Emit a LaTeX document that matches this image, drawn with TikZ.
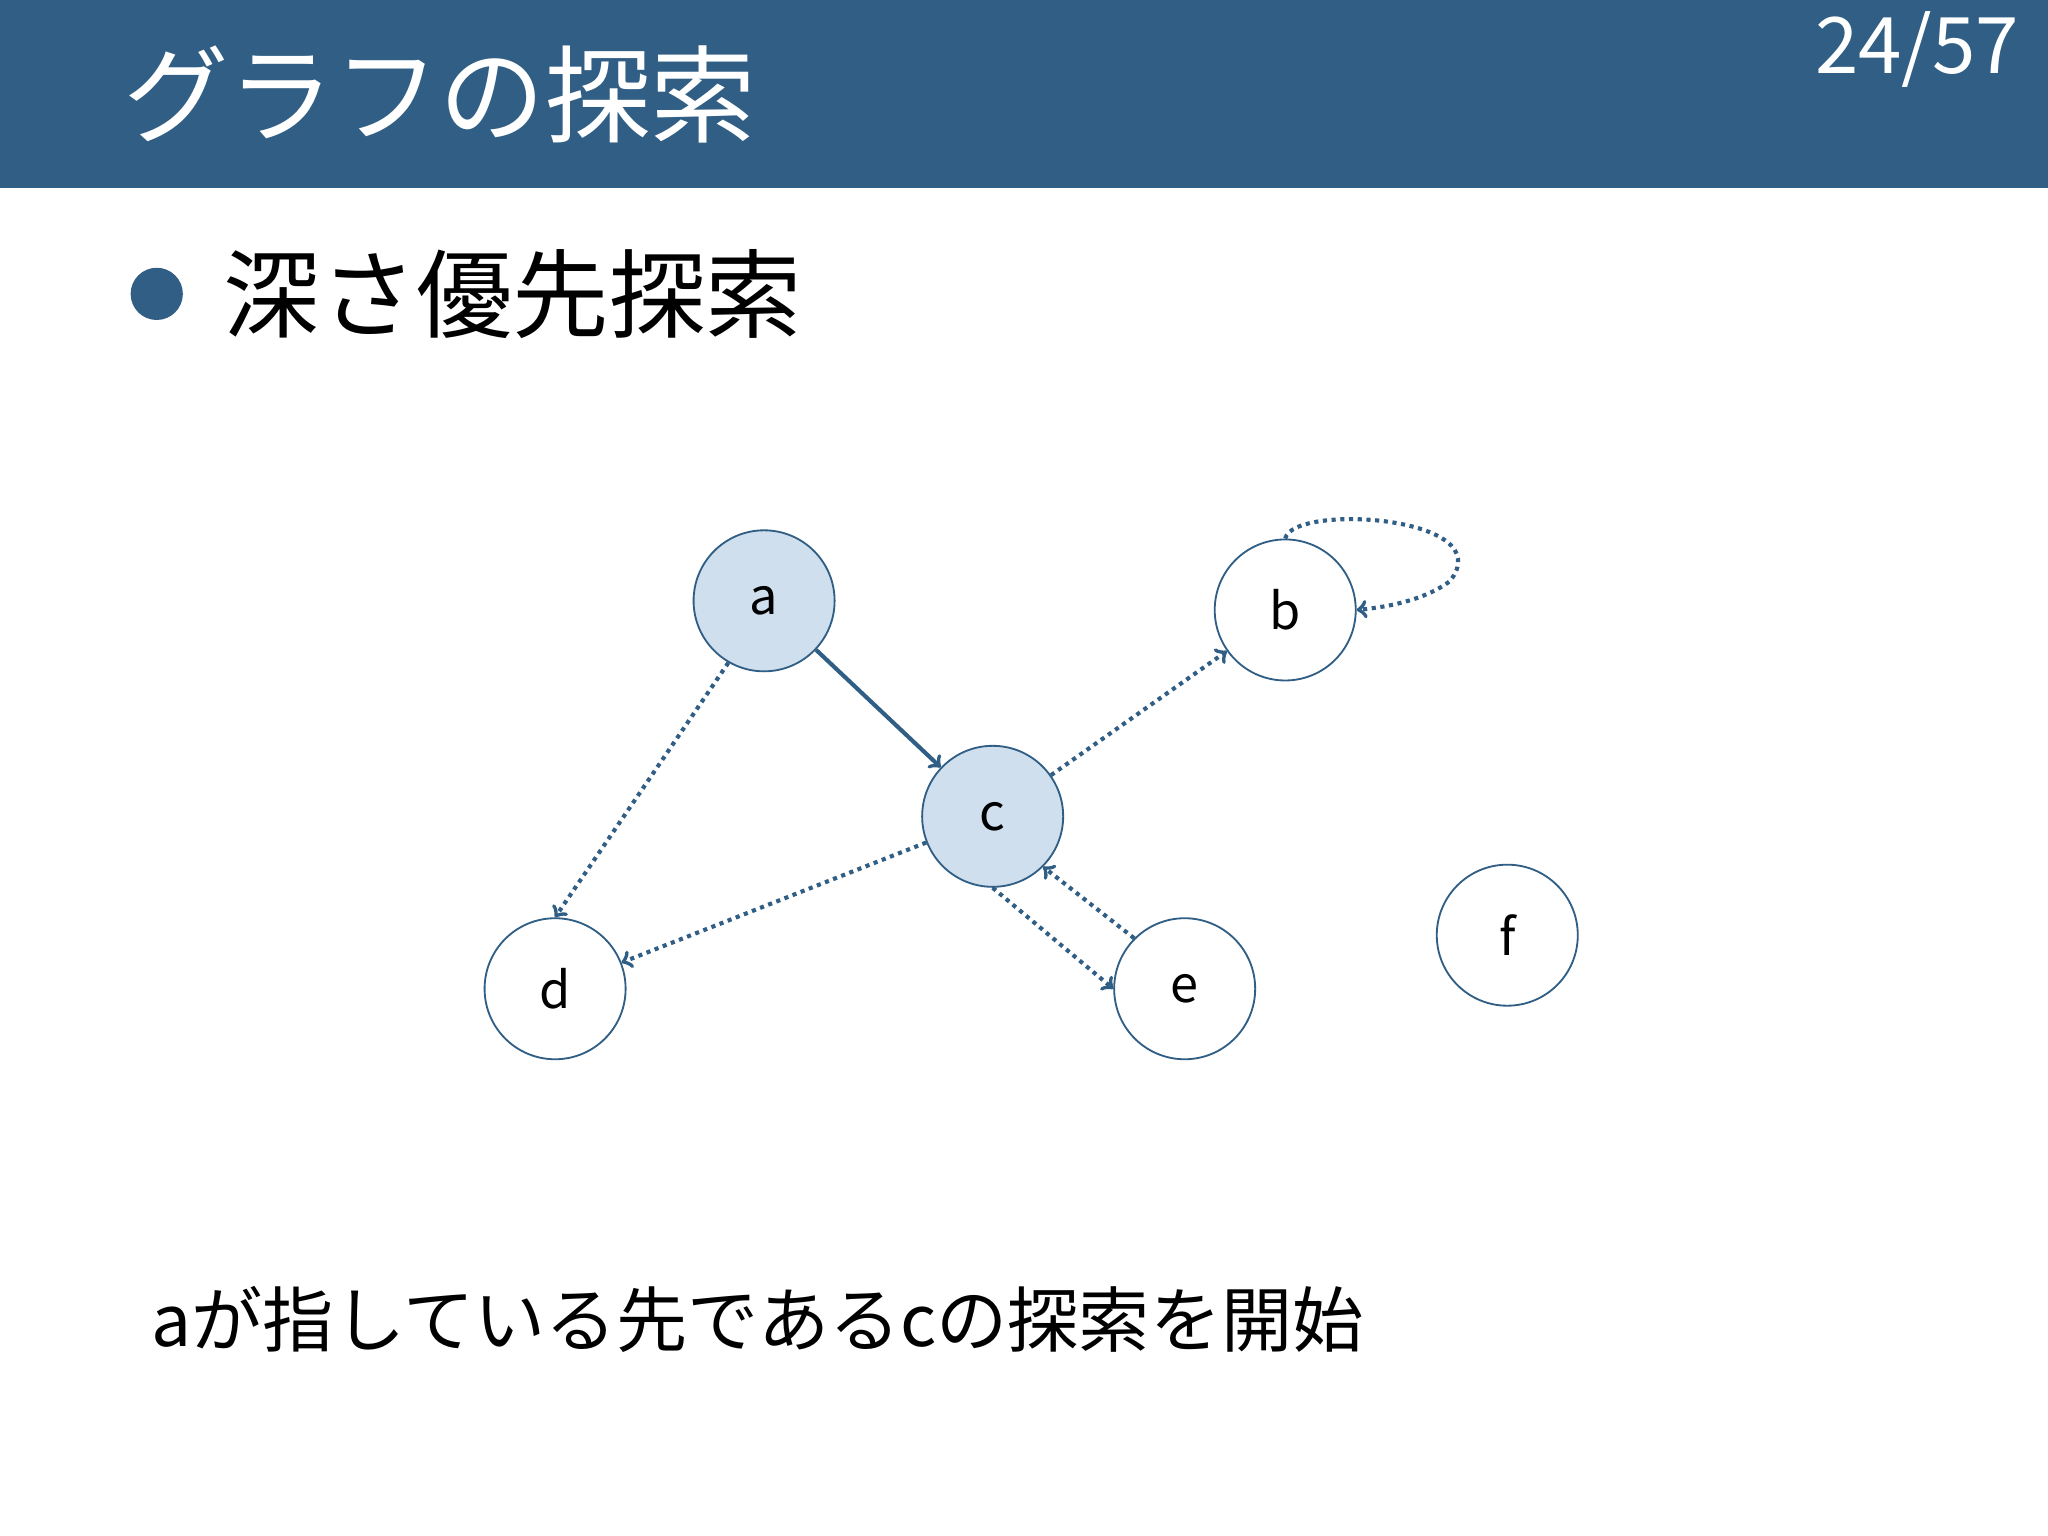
\documentclass[tikz,border=0pt]{standalone}
\usepackage{fontspec}
\setmainfont{Noto Sans CJK JP}
\usetikzlibrary{arrows,positioning}
\definecolor{barblue}{HTML}{305E84}
\definecolor{nodefill}{HTML}{CFDFEE}
\tikzset{vertex/.style={circle, draw=barblue, thick, fill=white, minimum size=2.16cm, inner sep=0pt, font=\fontsize{22}{24}\selectfont}}
\tikzset{visited/.style={vertex, fill=nodefill}}
\tikzset{tree/.style={draw=barblue, line width=1.8pt, -to}}
\tikzset{back/.style={draw=barblue, line width=1.8pt, dotted, -to}}

\begin{document}
\begin{tikzpicture}[x=0.02cm, y=-0.02cm]
  \useasboundingbox (0,0) rectangle (1568,1176);
  \fill[barblue] (0,0) rectangle (1568,144);
  % Texts
  \node[anchor=west, text=white, font=\fontsize{46}{50}\selectfont] (title) at (88,72) {グラフの探索};
  \node[anchor=east, text=white, font=\fontsize{34}{36}\selectfont] (page) at (1552,38) {24/57};
  \fill[barblue] (120,225) circle (20) coordinate (dot);
  \node[anchor=west, font=\fontsize{42}{46}\selectfont] (head) at (165,225) {深さ優先探索};
  \node[anchor=west, font=\fontsize{31}{34}\selectfont] (msg) at (110,1010) {aが指している先であるcの探索を開始};
  %Nodes
  \node[visited] (a) at (585,460) {a};
  \node[vertex] (b) at (984,467) {b};
  \node[visited] (c) at (760,625) {c};
  \node[vertex] (d) at (425,757) {d};
  \node[vertex] (e) at (907,757) {e};
  \node[vertex] (f) at (1154,716) {f};
  % Edges
  \draw[tree] (a) -- (c);
  \draw[back] (a.-120) -- (d.north);
  \draw[back] (c) -- (b);
  \draw[back] (c) -- (d);
  \draw[back] (c.-90) -- (e.180);
  \draw[back] (e.135) -- (c.-45);
  \draw[back] (b.north) .. controls (990,385) and (1150,395) .. (1110,445)
    .. controls (1090,460) and (1060,465) .. (b.east);
\end{tikzpicture}
\end{document}
